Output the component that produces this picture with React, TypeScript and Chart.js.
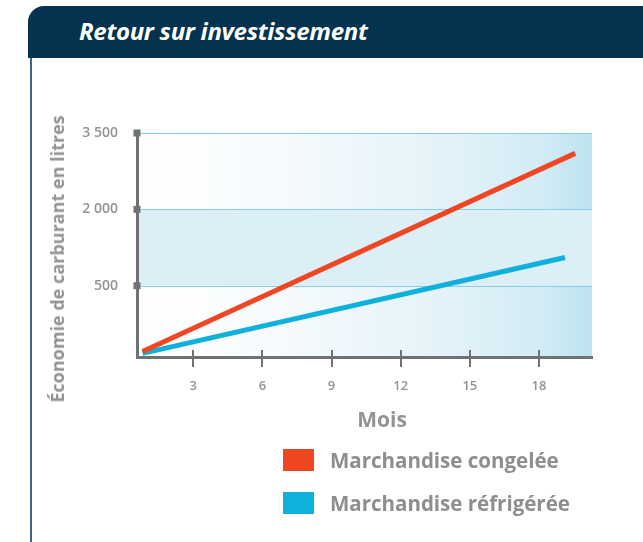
import React, { useEffect, useRef } from "react";
import { Chart, registerables } from "chart.js";

Chart.register(...registerables);

// ---- data ----
const titleText = "Retour sur investissement";
const xAxisTitle = "Mois";
const yAxisTitle = "Économie de carburant en litres";
const seriesNames = ["Marchandise congelée", "Marchandise réfrigérée"];
const seriesColors = ["#ef4623", "#0fb0dc"];

const congeleeMonths = [0.8, 19.57];
const congeleeLitres = [-790, 3100];
const refrigereeMonths = [0.8, 19.13];
const refrigereeLitres = [-830, 1055];

const xTickValues = [3, 6, 9, 12, 15, 18];
const yTickValues = [500, 2000, 3500];
const yTickLabels = ["500", "2 000", "3 500"];
const bandFrom = 500;
const bandTo = 2000;
const xMin = 0.56;
const xMax = 20.3;
const yMin = -900;
const yMax = 3500;

const FONT = "'Open Sans', 'DejaVu Sans', sans-serif";
const AXIS_GRAY = "#707173";
const TEXT_GRAY = "#939393";
const GRID_BLUE = "#86cfea";

const decorPlugin = {
  id: "decor",
  beforeDraw(chart: any) {
    const { ctx, chartArea } = chart;
    const { left, right, top, bottom } = chartArea;
    const ys = chart.scales.y;
    ctx.save();
    const g = ctx.createLinearGradient(left, 0, right, 0);
    g.addColorStop(0, "#ffffff");
    g.addColorStop(0.3, "#f7fbfd");
    g.addColorStop(0.65, "#e5f3f9");
    g.addColorStop(0.88, "#d4ecf5");
    g.addColorStop(1, "#bde2f0");
    ctx.fillStyle = g;
    ctx.fillRect(left, top, right - left, bottom - top);
    const b1 = ys.getPixelForValue(bandTo);
    const b2 = ys.getPixelForValue(bandFrom);
    ctx.fillStyle = "#dceef6";
    ctx.fillRect(left, b1, right - left, b2 - b1);
    // horizontal guide lines at the y ticks
    ctx.strokeStyle = GRID_BLUE;
    ctx.lineWidth = 1.2;
    ys.ticks.forEach((t: any) => {
      const py = Math.round(ys.getPixelForValue(t.value)) + 0.5;
      ctx.beginPath();
      ctx.moveTo(left, py);
      ctx.lineTo(right, py);
      ctx.stroke();
    });
    ctx.restore();
  },
  afterDraw(chart: any) {
    const { ctx, chartArea } = chart;
    const xs = chart.scales.x;
    const ys = chart.scales.y;
    ctx.save();
    ctx.fillStyle = AXIS_GRAY;
    yTickValues.forEach((v) => {
      const py = ys.getPixelForValue(v);
      ctx.fillRect(chartArea.left - 3.5, py - 3.5, 7, 7);
    });
    ctx.strokeStyle = AXIS_GRAY;
    ctx.lineWidth = 2;
    xTickValues.forEach((v) => {
      const px = Math.round(xs.getPixelForValue(v));
      ctx.beginPath();
      ctx.moveTo(px, chartArea.bottom - 7);
      ctx.lineTo(px, chartArea.bottom + 10);
      ctx.stroke();
    });
    ctx.restore();
  },
};

function ChartView() {
  const ref = useRef<HTMLCanvasElement | null>(null);
  useEffect(() => {
    if (!ref.current) return;
    const chart = new Chart(ref.current, {
      type: "line",
      data: {
        datasets: [
          {
            label: seriesNames[0],
            data: congeleeMonths.map((m, i) => ({ x: m, y: congeleeLitres[i] })),
            borderColor: seriesColors[0],
            backgroundColor: seriesColors[0],
            borderWidth: 5,
            pointRadius: 0,
            borderCapStyle: "butt",
            tension: 0,
          },
          {
            label: seriesNames[1],
            data: refrigereeMonths.map((m, i) => ({ x: m, y: refrigereeLitres[i] })),
            borderColor: seriesColors[1],
            backgroundColor: seriesColors[1],
            borderWidth: 5,
            pointRadius: 0,
            borderCapStyle: "butt",
            tension: 0,
          },
        ],
      },
      options: {
        animation: false,
        responsive: false,
        maintainAspectRatio: false,
        layout: { padding: { left: 0, right: 51, top: 133, bottom: 0 } },
        plugins: {
          legend: { display: false },
          tooltip: { enabled: false },
          title: { display: false },
        },
        scales: {
          x: {
            type: "linear",
            min: xMin,
            max: xMax,
            afterBuildTicks: (s: any) => {
              s.ticks = xTickValues.map((v) => ({ value: v }));
            },
            afterFit: (s: any) => {
              s.height = 185;
            },
            grid: { display: false, drawTicks: false },
            border: { display: true, color: AXIS_GRAY, width: 3 },
            ticks: {
              padding: 21,
              color: TEXT_GRAY,
              font: { family: FONT, size: 13, weight: "600" },
              maxRotation: 0,
              autoSkip: false,
            },
          },
          y: {
            type: "linear",
            min: yMin,
            max: yMax,
            afterBuildTicks: (s: any) => {
              s.ticks = yTickValues.map((v) => ({ value: v }));
            },
            afterFit: (s: any) => {
              s.width = 137;
            },
            grid: { display: false, drawTicks: false },
            border: { display: true, color: AXIS_GRAY, width: 3 },
            ticks: {
              padding: 19,
              color: TEXT_GRAY,
              font: { family: FONT, size: 14, weight: "600" },
              autoSkip: false,
              callback: (v: any) => {
                const i = yTickValues.indexOf(Number(v));
                return i >= 0 ? yTickLabels[i] : "";
              },
            },
          },
        },
      },
      plugins: [decorPlugin],
    } as any);
    return () => chart.destroy();
  }, []);
  return (
    <canvas
      ref={ref}
      width={643}
      height={542}
      style={{ position: "absolute", left: 0, top: 0, width: 643, height: 542 }}
    />
  );
}

export default function App() {
  return (
    <div
      style={{
        position: "absolute",
        left: 0,
        top: 0,
        width: 643,
        height: 542,
        overflow: "hidden",
        background: "#ffffff",
        fontFamily: FONT,
      }}
    >
      <div
        style={{
          position: "absolute",
          left: 28,
          top: 6,
          width: 640,
          height: 52,
          background: "#03334f",
          borderTopLeftRadius: 16,
        }}
      />
      <div
        style={{
          position: "absolute",
          left: 79,
          top: 6,
          height: 52,
          lineHeight: "50px",
          color: "#ffffff",
          fontStyle: "italic",
          fontWeight: 700,
          fontSize: 24,
          letterSpacing: -0.3,
          whiteSpace: "nowrap",
        }}
      >
        {titleText}
      </div>
      <div
        style={{
          position: "absolute",
          left: 30,
          top: 58,
          width: 2,
          height: 490,
          background: "#3d6585",
        }}
      />
      <ChartView />
      <div
        style={{
          position: "absolute",
          left: 57,
          top: 259,
          transform: "translate(-50%, -50%) rotate(-90deg)",
          color: TEXT_GRAY,
          fontWeight: 700,
          fontSize: 18,
          whiteSpace: "nowrap",
          lineHeight: "22px",
        }}
      >
        {yAxisTitle}
      </div>
      <div
        style={{
          position: "absolute",
          left: 382,
          top: 419,
          transform: "translate(-50%, -50%)",
          color: TEXT_GRAY,
          fontWeight: 700,
          fontSize: 21,
          whiteSpace: "nowrap",
          lineHeight: "24px",
        }}
      >
        {xAxisTitle}
      </div>
      {seriesNames.map((name, i) => (
        <div
          key={name}
          style={{
            position: "absolute",
            left: 283,
            top: 449 + i * 43,
            height: 22,
            display: "flex",
            alignItems: "center",
            whiteSpace: "nowrap",
          }}
        >
          <span
            style={{
              display: "inline-block",
              width: 31,
              height: 22,
              background: seriesColors[i],
              marginRight: 16,
            }}
          />
          <span
            style={{
              color: "#8e8e8e",
              fontWeight: 700,
              fontSize: 20.5,
              lineHeight: "22px",
            }}
          >
            {name}
          </span>
        </div>
      ))}
    </div>
  );
}
